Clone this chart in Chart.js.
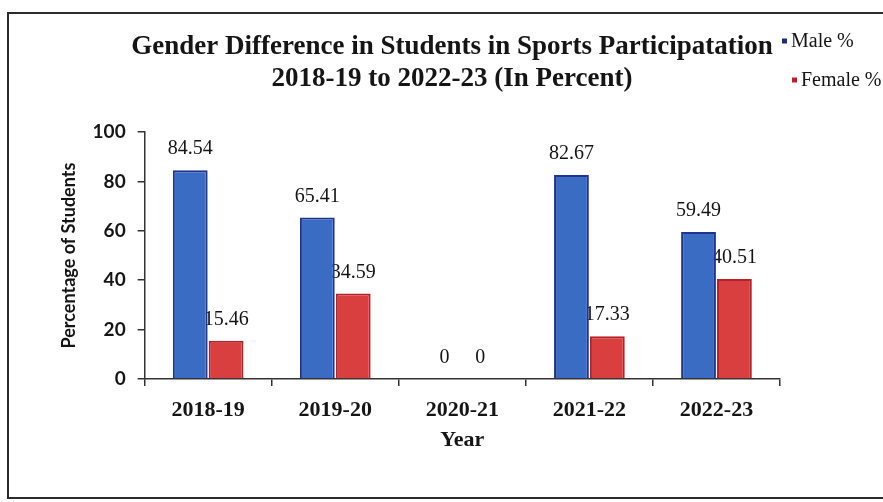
<!DOCTYPE html>
<html>
<head>
<meta charset="utf-8">
<script src="https://cdn.jsdelivr.net/npm/chart.js@4.4.1/dist/chart.umd.min.js"></script>
<style>
  html, body { margin: 0; padding: 0; background: #fff; width: 883px; height: 502px; overflow: hidden; }
  #frame { position: absolute; left: 7px; top: 12px; width: 900px; height: 487px; border: 2px solid #2b2b2b; box-sizing: border-box; }
  #wrap { position: absolute; left: 0; top: 0; width: 883px; height: 502px; }
</style>
</head>
<body>
<div id="frame"></div>
<div id="wrap"><canvas id="chart"></canvas></div>
<script>
// Academic years on the x axis
const years = ['2018-19', '2019-20', '2020-21', '2021-22', '2022-23'];
// Share of students taking part in sports, by gender (%)
const malePct = [84.54, 65.41, 0, 82.67, 59.49];
const femalePct = [15.46, 34.59, 0, 17.33, 40.51];
// Y axis tick values
const yTicks = [0, 20, 40, 60, 80, 100];

const SERIF = '"Liberation Serif", "Times New Roman", Times, serif';
const SANS = 'Lato, "Liberation Sans", Arial, sans-serif';
const INK = '#151515';

// Value labels above each bar, painted before the bars so a neighbouring bar can overlap them
const barValues = {
  id: 'barValues',
  beforeDatasetsDraw(chart, args, opts) {
    const ctx = chart.ctx;
    ctx.save();
    ctx.font = opts.font;
    ctx.fillStyle = opts.color;
    ctx.textAlign = 'center';
    ctx.textBaseline = 'alphabetic';
    chart.data.datasets.forEach((ds, i) => {
      chart.getDatasetMeta(i).data.forEach((bar, j) => {
        ctx.fillText(String(ds.data[j]), bar.x, bar.y - opts.gap);
      });
    });
    ctx.restore();
  }
};

// Small square-marker legend in the top-right corner
const cornerLegend = {
  id: 'cornerLegend',
  afterDraw(chart, args, opts) {
    const ctx = chart.ctx;
    ctx.save();
    ctx.font = opts.font;
    ctx.textBaseline = 'middle';
    ctx.textAlign = 'left';
    chart.data.datasets.forEach((ds, i) => {
      const p = opts.items[i];
      ctx.fillStyle = ds.legendColor;
      ctx.fillRect(p.x, p.y - opts.box / 2, opts.box, opts.box);
      ctx.fillStyle = INK;
      ctx.fillText(ds.label, p.x + opts.box + opts.gap, p.y + 1);
    });
    ctx.restore();
  }
};

// Horizontal placement of the two-line heading
const titleShift = {
  id: 'titleShift',
  afterLayout(chart, args, opts) {
    const t = chart.titleBlock;
    if (t) { t.left += opts.dx; t.right += opts.dx; }
  }
};

new Chart(document.getElementById('chart'), {
  type: 'bar',
  data: {
    labels: years,
    datasets: [
      {
        label: 'Male %',
        data: malePct,
        backgroundColor: '#3b6cc3',
        borderColor: '#1d3590',
        borderWidth: 2,
        legendColor: '#1f2d78',
        categoryPercentage: 0.565,
        barPercentage: 0.97
      },
      {
        label: 'Female %',
        data: femalePct,
        backgroundColor: '#d93f3f',
        borderColor: '#b3222a',
        borderWidth: 2,
        legendColor: '#c0202a',
        categoryPercentage: 0.565,
        barPercentage: 0.97
      }
    ]
  },
  options: {
    responsive: true,
    maintainAspectRatio: false,
    animation: false,
    layout: { padding: { top: 14, left: 56, right: 103, bottom: 51 } },
    plugins: {
      legend: { display: false },
      tooltip: { enabled: false },
      title: {
        display: true,
        text: ['Gender Difference in Students in Sports Participatation', '2018-19 to 2022-23 (In Percent)'],
        color: INK,
        font: { family: SERIF, size: 27, weight: 'bold', lineHeight: 1.15 },
        padding: { top: 18, bottom: 38 }
      },
      titleShift: { dx: 34 },
      barValues: { font: '20px ' + SERIF, color: INK, gap: 16 },
      cornerLegend: {
        font: '20px ' + SERIF,
        box: 5,
        gap: 4,
        items: [{ x: 782, y: 41 }, { x: 792, y: 80 }]
      }
    },
    scales: {
      x: {
        grid: { display: true, drawOnChartArea: false, drawTicks: true, tickLength: 7, color: '#333', lineWidth: 1.5 },
        border: { display: true, color: '#333', width: 1.5 },
        ticks: { color: INK, font: { family: SERIF, size: 22, weight: 'bold', lineHeight: 1.0 }, padding: 13, maxRotation: 0 },
        title: { display: true, text: 'Year', color: INK, font: { family: SERIF, size: 22, weight: 'bold', lineHeight: 1.0 }, padding: { top: -5, bottom: 0 } }
      },
      y: {
        min: 0,
        max: 100,
        afterBuildTicks(scale) { scale.ticks = yTicks.map(v => ({ value: v })); },
        grid: { display: true, drawOnChartArea: false, drawTicks: true, tickLength: 7, color: '#333', lineWidth: 1.5 },
        border: { display: true, color: '#333', width: 1.5 },
        ticks: { color: INK, font: { family: SANS, size: 19, weight: 'bold' }, padding: 12 },
        title: { display: true, text: 'Percentage of Students', color: INK, font: { family: SANS, size: 18, weight: 'bold' }, padding: { top: 2, bottom: 1 } }
      }
    }
  },
  plugins: [barValues, cornerLegend, titleShift]
});
</script>
</body>
</html>
